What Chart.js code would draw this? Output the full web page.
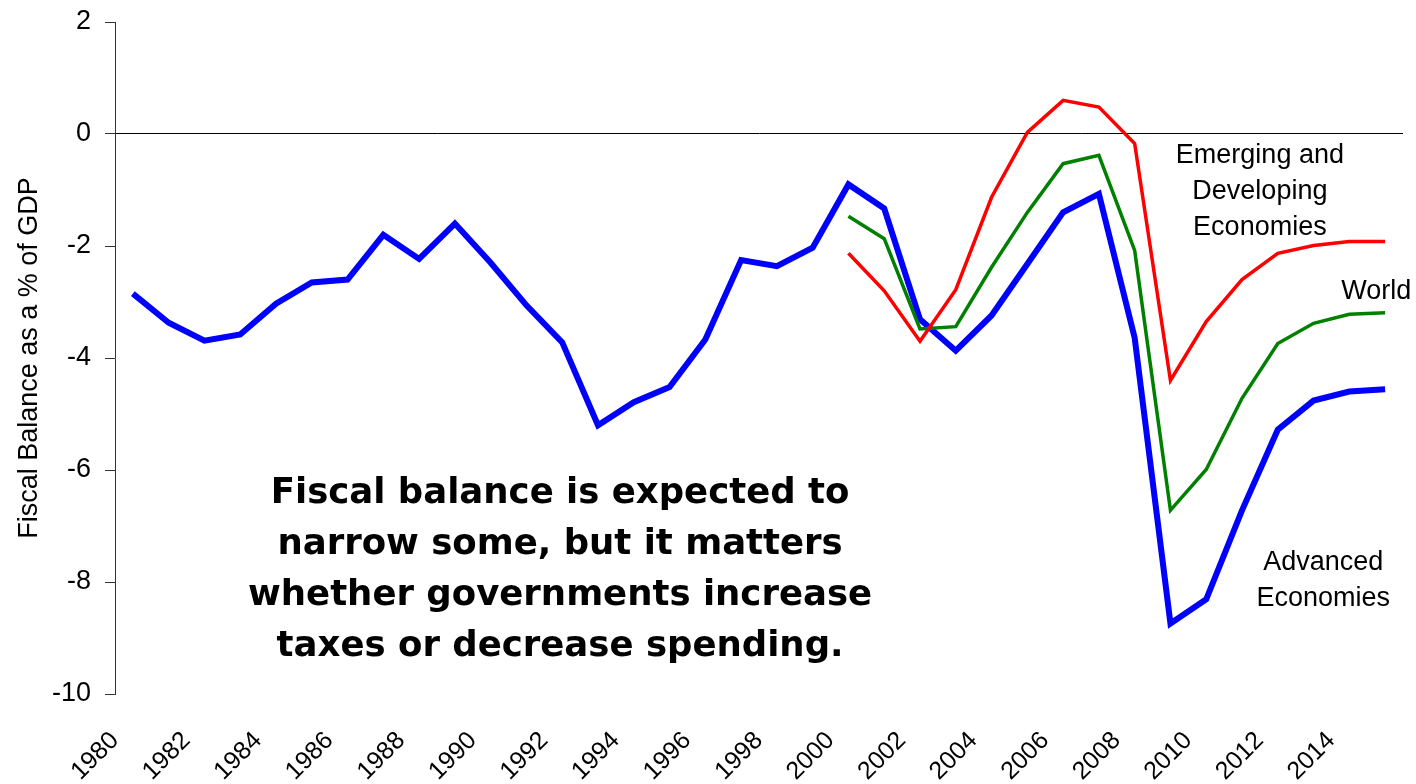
<!DOCTYPE html>
<html>
<head>
<meta charset="utf-8">
<script src="https://cdn.jsdelivr.net/npm/chart.js@4"></script>
<style>
  html, body { margin: 0; padding: 0; background: #fff; }
  #wrap { width: 1416px; height: 784px; position: relative; }
</style>
</head>
<body>
<div id="wrap"><canvas id="fiscalChart"></canvas></div>
<script>
    // years on the category axis
    const years = [];
    for (let y = 1980; y <= 2015; y++) years.push(String(y));

    // fiscal balance, % of GDP
    const advanced = [-2.85, -3.37, -3.69, -3.58, -3.03, -2.65, -2.6, -1.8, -2.23, -1.6,
      -2.3, -3.06, -3.72, -5.2, -4.79, -4.52, -3.67, -2.25, -2.36, -2.03,
      -0.9, -1.33, -3.31, -3.87, -3.24, -2.32, -1.4, -1.07, -3.64, -8.74,
      -8.31, -6.72, -5.28, -4.76, -4.6, -4.56];
    const world = [null, null, null, null, null, null, null, null, null, null,
      null, null, null, null, null, null, null, null, null, null,
      -1.47, -1.87, -3.48, -3.44, -2.38, -1.4, -0.53, -0.38, -2.08, -6.72,
      -5.99, -4.72, -3.74, -3.38, -3.22, -3.19];
    const emerging = [null, null, null, null, null, null, null, null, null, null,
      null, null, null, null, null, null, null, null, null, null,
      -2.13, -2.8, -3.7, -2.78, -1.13, 0.03, 0.6, 0.48, -0.17, -4.4,
      -3.35, -2.6, -2.13, -1.99, -1.92, -1.92];

    const yTicks = [-10, -8, -6, -4, -2, 0, 2];

    // text placed in data units: x = category index, y = value
    const notes = [
      { lines: ['Emerging and', 'Developing', 'Economies'], x: 31.5, y: -0.38, step: 0.645, font: '27px "Liberation Sans", Arial, sans-serif' },
      { lines: ['World'], x: 34.75, y: -2.81, step: 0, font: '27px "Liberation Sans", Arial, sans-serif' },
      { lines: ['Advanced', 'Economies'], x: 33.27, y: -7.65, step: 0.645, font: '27px "Liberation Sans", Arial, sans-serif' },
      { lines: ['Fiscal balance is expected to', 'narrow some, but it matters', 'whether governments increase', 'taxes or decrease spending.'],
        x: 11.94, y: -6.42, step: 0.91, font: 'bold 35.5px "Comic Sans MS", "DejaVu Sans", sans-serif' }
    ];

    const notesPlugin = {
      id: 'notes',
      afterDatasetsDraw(chart) {
        const ctx = chart.ctx;
        const xs = chart.scales.x;
        const ys = chart.scales.y;
        ctx.save();
        ctx.fillStyle = '#000';
        ctx.textAlign = 'center';
        ctx.textBaseline = 'middle';
        notes.forEach(n => {
          ctx.font = n.font;
          n.lines.forEach((line, i) => {
            ctx.fillText(line, xs.getPixelForValue(n.x), ys.getPixelForValue(n.y - i * n.step));
          });
        });
        ctx.restore();
      }
    };

    const fiscalChart = new Chart(document.getElementById('fiscalChart'), {
      type: 'line',
      data: {
        labels: years,
        datasets: [
          { label: 'Emerging and Developing Economies', data: emerging, borderColor: '#ff0000', borderWidth: 3.5 },
          { label: 'World', data: world, borderColor: '#008000', borderWidth: 3.5 },
          { label: 'Advanced Economies', data: advanced, borderColor: '#0000ff', borderWidth: 6 }
        ]
      },
      options: {
        responsive: true,
        maintainAspectRatio: false,
        animation: false,
        layout: { padding: { top: 22, right: 13, left: 0, bottom: 0 } },
        elements: {
          point: { radius: 0 },
          line: { tension: 0, fill: false }
        },
        plugins: {
          legend: { display: false },
          tooltip: { enabled: false }
        },
        scales: {
          x: {
            offset: true,
            grid: { display: false },
            border: { display: false },
            ticks: {
              autoSkip: false,
              minRotation: 45,
              maxRotation: 45,
              color: '#000',
              padding: 24,
              labelOffset: -18,
              font: { family: '"Liberation Sans", Arial, sans-serif', size: 25 },
              callback: function (value, index) {
                return index % 2 === 0 ? this.getLabelForValue(value) : '';
              }
            },
            afterFit: scale => {
              scale.height = 90;
              scale.paddingLeft = 0;
              scale.paddingRight = 0;
            }
          },
          y: {
            min: -10,
            max: 2,
            afterBuildTicks: scale => { scale.ticks = yTicks.map(v => ({ value: v })); },
            grid: {
              color: ctx => (ctx.tick && ctx.tick.value === 0 ? '#000' : 'rgba(0,0,0,0)'),
              tickColor: '#333',
              tickLength: 10,
              lineWidth: 1
            },
            border: { display: true, color: '#333', width: 1 },
            ticks: {
              color: '#000',
              padding: 14,
              font: { family: '"Liberation Sans", Arial, sans-serif', size: 27 }
            },
            title: {
              display: true,
              text: 'Fiscal Balance as a % of GDP',
              color: '#000',
              padding: { top: 13, bottom: 0 },
              font: { family: '"Liberation Sans", Arial, sans-serif', size: 27 }
            },
            afterFit: scale => {
              scale.width = 115;
              scale.paddingTop = 0;
              scale.paddingBottom = 0;
            }
          }
        }
      },
      plugins: [notesPlugin]
    });
</script>
</body>
</html>
